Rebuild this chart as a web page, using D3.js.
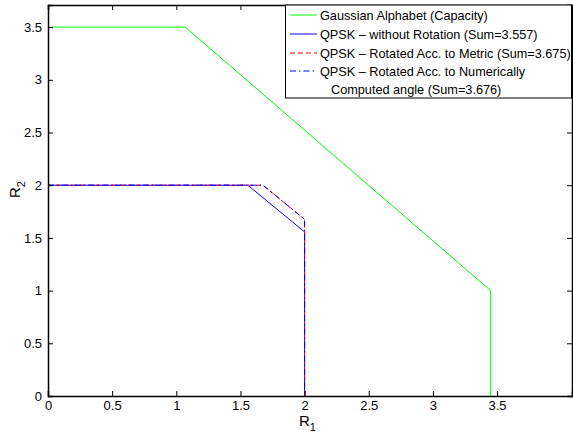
<!DOCTYPE html>
<html>
<head>
<meta charset="utf-8">
<script src="https://cdn.jsdelivr.net/npm/d3@7"></script>
<style>
  body { margin: 0; background: #fff; }
  text { font-family: "Liberation Sans", Arial, Helvetica, sans-serif; }
</style>
</head>
<body>
<div id="chart"></div>
<script>
// data
var gaussR1 = [0, 1.07, 3.45, 3.45];
var gaussR2 = [3.5, 3.5, 1.0, 0];
var noRotR1 = [0, 1.557, 2.0, 2.0];
var noRotR2 = [2.0, 2.0, 1.557, 0];
var metricR1 = [0, 1.675, 2.0, 2.0];
var metricR2 = [2.0, 2.0, 1.675, 0];
var numR1 = [0, 1.676, 2.0, 2.0];
var numR2 = [2.0, 2.0, 1.676, 0];
var xTicks = [0, 0.5, 1, 1.5, 2, 2.5, 3, 3.5];
var yTicks = [0, 0.5, 1, 1.5, 2, 2.5, 3, 3.5];
var legendLabels = [
  ["Gaussian Alphabet (Capacity)"],
  ["QPSK \u2013 without Rotation (Sum=3.557)"],
  ["QPSK \u2013 Rotated Acc. to Metric (Sum=3.675)"],
  ["QPSK \u2013 Rotated Acc. to Numerically", "Computed angle (Sum=3.676)"]
];

var W = 573, H = 432;
var m = {left: 48, top: 5, right: 572, bottom: 396};

var svg = d3.select("#chart").append("svg")
    .attr("width", W)
    .attr("height", H);

var x = d3.scaleLinear().domain([0, (m.right - m.left) / 128.3]).range([m.left, m.right]);
var y = d3.scaleLinear().domain([0, (m.bottom - m.top) / 105.4]).range([m.bottom, m.top]);

function zip(a, b) { return a.map(function(v, i) { return [v, b[i]]; }); }

var line = d3.line().x(function(d) { return x(d[0]); }).y(function(d) { return y(d[1]); });

var series = [
  {pts: zip(gaussR1, gaussR2), color: "#00ff00", dash: null},
  {pts: zip(noRotR1, noRotR2), color: "#0000ff", dash: null},
  {pts: zip(metricR1, metricR2), color: "#ff0000", dash: "5,3"},
  {pts: zip(numR1, numR2), color: "#0000ff", dash: "6,3,1.5,3"}
];

svg.selectAll("path.series")
  .data(series)
  .enter().append("path")
    .attr("class", "series")
    .attr("fill", "none")
    .attr("stroke", function(d) { return d.color; })
    .attr("stroke-width", 1)
    .attr("stroke-dasharray", function(d) { return d.dash; })
    .attr("d", function(d) { return line(d.pts); });

// axes, MATLAB style (ticks pointing inwards)
var axB = svg.append("g").attr("transform", "translate(0," + m.bottom + ")")
  .call(d3.axisBottom(x).tickValues(xTicks).tickSize(-5).tickPadding(5).tickFormat(d3.format("")));
var axT = svg.append("g").attr("transform", "translate(0," + m.top + ")")
  .call(d3.axisTop(x).tickValues(xTicks).tickSize(-5).tickFormat(""));
var axL = svg.append("g").attr("transform", "translate(" + m.left + ",0)")
  .call(d3.axisLeft(y).tickValues(yTicks).tickSize(-5).tickPadding(6).tickFormat(d3.format("")));
var axR = svg.append("g").attr("transform", "translate(" + m.right + ",0)")
  .call(d3.axisRight(y).tickValues(yTicks).tickSize(-5).tickFormat(""));

[axB, axT, axL, axR].forEach(function(g) {
  g.select(".domain").attr("stroke", "#000").attr("stroke-width", 1.5);
  g.selectAll(".tick line").attr("stroke", "#000");
  g.selectAll("text").attr("font-size", 13).attr("fill", "#000")
    .attr("font-family", "Liberation Sans, Arial, sans-serif");
});
axL.selectAll(".tick text").attr("x", -6);
axB.selectAll(".tick text").attr("y", 5);

// axis labels
var xl = svg.append("text").attr("x", 299).attr("y", 426).attr("font-size", 15);
xl.append("tspan").text("R");
xl.append("tspan").attr("font-size", 11).attr("dy", 5).text("1");

var yl = svg.append("text").attr("transform", "translate(20,198) rotate(-90)").attr("font-size", 15);
yl.append("tspan").text("R");
yl.append("tspan").attr("font-size", 11).attr("dy", 5).text("2");

// legend
var lg = svg.append("g");
lg.append("rect")
  .attr("x", 285.5).attr("y", m.top).attr("width", 286).attr("height", 93)
  .attr("fill", "#fff").attr("stroke", "#000").attr("stroke-width", 1);

var rowY = [15, 34, 53, 71];
legendLabels.forEach(function(lab, i) {
  var s = series[i];
  lg.append("line")
    .attr("x1", 290).attr("x2", 317)
    .attr("y1", rowY[i]).attr("y2", rowY[i])
    .attr("stroke", s.color).attr("stroke-dasharray", s.dash);
  lab.forEach(function(t, j) {
    lg.append("text")
      .attr("x", j === 0 ? 320 : 331)
      .attr("y", rowY[i] + 4.5 + j * 18)
      .attr("font-size", 12.7)
      .text(t);
  });
});
</script>
</body>
</html>
